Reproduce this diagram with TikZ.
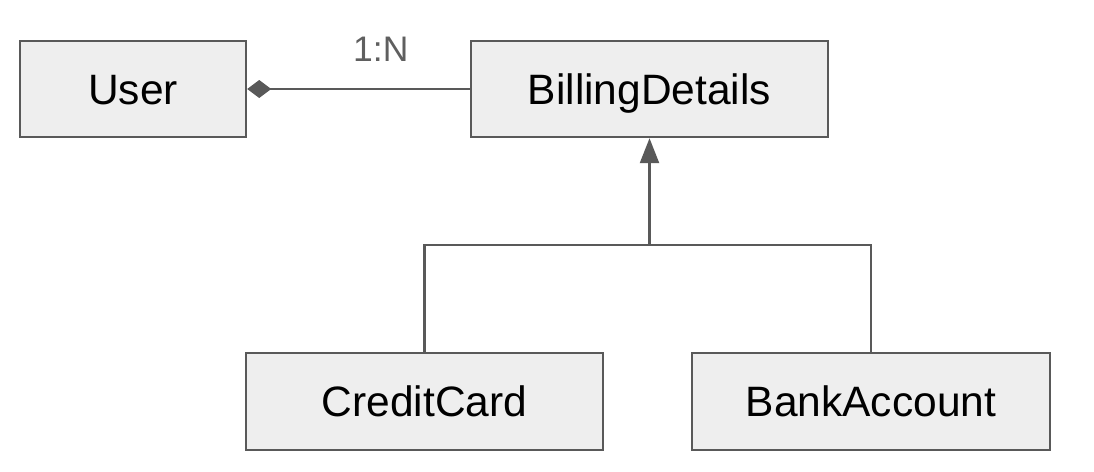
\documentclass[tikz,border=0pt]{standalone}
\usepackage{fontspec}
\setmainfont{Liberation Sans}
\usetikzlibrary{arrows.meta}
\definecolor{linegray}{HTML}{595959}
\definecolor{boxfill}{HTML}{EEEEEE}
\definecolor{labelgray}{HTML}{5F5F5F}
\tikzset{
  classbox/.style={draw=linegray, fill=boxfill, line width=2.4pt, inner sep=0pt,
    font=\fontsize{42.5}{50}\selectfont, text height=30.4pt, text depth=0pt},
  conn/.style={draw=linegray, line width=2.4pt},
  lbl/.style={text=labelgray, font=\fontsize{35.5}{42}\selectfont, inner sep=0pt}
}
\begin{document}
\begin{tikzpicture}[x=1pt,y=-1pt]
\useasboundingbox (0,0) rectangle (1094,471);
\node[classbox, minimum width=226pt, minimum height=96pt] (user) at (133,89) {User};
\node[classbox, minimum width=357pt, minimum height=96pt] (bd) at (649.5,89) {BillingDetails};
\node[classbox, minimum width=357pt, minimum height=97pt] (cc) at (424.5,401.5) {CreditCard};
\node[classbox, minimum width=358pt, minimum height=97pt] (ba) at (871,401.5) {BankAccount};
\draw[conn, {Diamond[length=24pt,width=18pt,fill=linegray]}-] (user.east) -- node[lbl, pos=0.6, anchor=south, yshift=26pt] {1:N} (bd.west);
\coordinate (j) at (bd.south |- 0,245);
\draw[conn] (cc.north) |- (j) -| (ba.north);
\draw[conn, -{Triangle[length=25pt,width=19pt,fill=linegray]}] (j) -- (bd.south);
\end{tikzpicture}
\end{document}
